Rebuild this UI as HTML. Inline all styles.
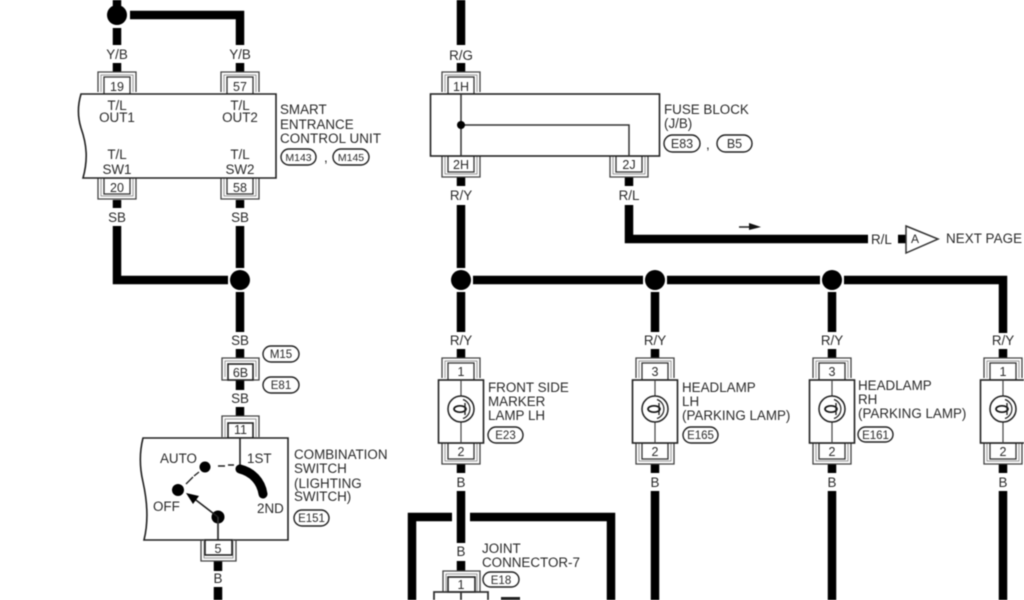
<!DOCTYPE html>
<html><head><meta charset="utf-8"><style>
html,body{margin:0;padding:0;background:#fff}
svg{display:block;filter:blur(.6px)}
text{font-family:"Liberation Sans",sans-serif;font-size:13.4px;fill:#2a2a2a}
.c{text-anchor:middle}
.p{font-size:11.5px;text-anchor:middle;fill:#2a2a2a}
.m{font-size:10.500px;text-anchor:middle;fill:#2a2a2a}
.n{font-size:12.5px;text-anchor:middle;fill:#2a2a2a}
.w{fill:none;stroke:#000;stroke-width:8.5;stroke-linejoin:miter}
.b{fill:#fff;stroke:#222;stroke-width:1.6}
.t{fill:none;stroke:#444;stroke-width:1.3}
.l{fill:none;stroke:#999;stroke-width:1}
.o{fill:#fff;stroke:#222;stroke-width:1.4}
</style></head><body>
<svg width="1024" height="600" viewBox="0 0 1024 600" xmlns="http://www.w3.org/2000/svg">
<defs>
<g id="top"><path class="t" d="M-19,-2V-22H19V-2"/><path class="l" d="M-16,-2V-19H16V-2"/><rect x="-13" y="-17" width="26" height="17" fill="#fff" stroke="#333" stroke-width="1.3"/></g>
<g id="bot"><path class="t" d="M-19,0V21H19V0"/><path class="l" d="M-16,0V18H16V0"/><rect x="-13" y="0" width="26" height="16" fill="#fff" stroke="#333" stroke-width="1.3"/></g>
<g id="lamp"><rect x="-22.500" y="0" width="45" height="63" class="b"/><path d="M0,0V63" stroke="#444" stroke-width="1.2"/><circle cx="0" cy="29" r="13" fill="#fff" stroke="#222" stroke-width="1.5"/><path d="M2,19.500A10,10 0 0 1 2,38.500" fill="none" stroke="#222" stroke-width="1.2"/><ellipse cx="-1" cy="29" rx="6" ry="3.200" fill="none" stroke="#111" stroke-width="1.7"/><path d="M4,23V35" stroke="#222" stroke-width="1.4"/></g>
</defs>

<!-- wires -->
<path class="w" d="M117,0V8M117,28V45M117,63V72M130,15H240V45M240,63V72"/>
<path class="w" d="M117,200V208M240,200V208M117,226V280H228M240,226V268M240,292V332M240,349V358M240,380V390M240,407V416M218,561V571M218,587V600"/>
<path class="w" d="M461,0V45M461,63V72M461,177V186M629,177V186M461,205V268M629,205V239H868M898,239H906"/>
<path class="w" d="M473,280H643M667,280H820M844,280H1003V333"/>
<path class="w" d="M461,292V332M461,349V358M655,292V332M655,349V358M832,292V332M832,349V358M1003,349V358"/>
<path class="w" d="M461,464V473M461,491V543M461,561V571M655,464V473M655,491V600M832,464V473M832,491V600M1003,464V473M1003,491V600"/>
<path class="w" d="M452,517H412V600M470,517H611V600"/>
<circle cx="117" cy="15" r="10" fill="#000"/>
<circle cx="240" cy="280" r="10" fill="#000"/>
<circle cx="461" cy="280" r="10" fill="#000"/>
<circle cx="655" cy="280" r="10" fill="#000"/>
<circle cx="832" cy="280" r="10" fill="#000"/>

<!-- smart unit -->
<use href="#top" x="117" y="94"/><use href="#top" x="240" y="94"/>
<use href="#bot" x="117" y="178"/><use href="#bot" x="240" y="178"/>
<path class="b" d="M81,94H276V178H83C88,160 87,145 81,128C77,115 78,104 81,94Z"/>
<text class="n" x="117" y="91">19</text><text class="n" x="240" y="91">57</text>
<text class="n" x="117" y="192">20</text><text class="n" x="240" y="192">58</text>
<text class="c" x="117" y="59">Y/B</text><text class="c" x="240" y="59">Y/B</text>
<text class="c" x="117" y="110">T/L</text><text class="c" x="117" y="122">OUT1</text>
<text class="c" x="240" y="110">T/L</text><text class="c" x="240" y="122">OUT2</text>
<text class="c" x="117" y="159">T/L</text><text class="c" x="117" y="174">SW1</text>
<text class="c" x="240" y="159">T/L</text><text class="c" x="240" y="174">SW2</text>
<text x="280" y="114">SMART</text><text x="280" y="129">ENTRANCE</text><text x="280" y="143" textLength="101">CONTROL UNIT</text>
<rect x="281" y="149" width="35" height="16" rx="8" class="o"/><text class="m" x="298.500" y="161">M143</text>
<text x="324" y="162">,</text>
<rect x="333" y="149" width="36" height="16" rx="8" class="o"/><text class="m" x="351" y="161">M145</text>
<text class="c" x="117" y="222">SB</text><text class="c" x="240" y="222">SB</text>

<!-- 6B -->
<text class="c" x="240" y="345">SB</text>
<path class="t" d="M222,380V358H259V380Z"/><path class="l" d="M225,377V361H256V377"/>
<rect x="228" y="364" width="25" height="16" class="b"/><text class="n" x="240.500" y="377">6B</text>
<rect x="263" y="346" width="36" height="16" rx="8" class="o"/><text class="p" x="281" y="358">M15</text>
<rect x="263" y="377" width="36" height="16" rx="8" class="o"/><text class="p" x="281" y="389">E81</text>
<text class="c" x="240" y="403">SB</text>

<!-- combination switch -->
<path class="t" d="M222,437V416H259V437"/><path class="l" d="M225,437V419H256V437"/>
<rect x="228" y="423" width="25" height="15" class="b"/><text class="n" x="240.500" y="434">11</text>
<path class="b" d="M143,438H288V540H144C149,520 147,500 143,482C139,465 140,450 143,438Z"/>
<path d="M240,438V465" stroke="#222" stroke-width="1.6"/>
<path d="M240,469C252,472 261,481 263,494" fill="none" stroke="#000" stroke-width="9" stroke-linecap="round"/>
<path d="M193,477L186,484M199,472L194,476M218,466H225M228,465H234" stroke="#222" stroke-width="1.4" fill="none"/>
<circle cx="205" cy="467" r="5.500" fill="#000"/>
<circle cx="178" cy="490" r="6" fill="#000"/>
<circle cx="218" cy="517" r="6.500" fill="#000"/>
<path d="M218,517L192,497" stroke="#222" stroke-width="1.6"/>
<path d="M186,493L199,496L193,504Z" fill="#000"/>
<path d="M218,517V540" stroke="#333" stroke-width="1.8"/>
<text x="160" y="463">AUTO</text><text x="247" y="463">1ST</text><text x="153" y="511">OFF</text><text x="257" y="513">2ND</text>
<text x="294" y="459">COMBINATION</text><text x="294" y="473">SWITCH</text><text x="294" y="488">(LIGHTING</text><text x="294" y="501">SWITCH)</text>
<rect x="294" y="510" width="35" height="16" rx="8" class="o"/><text class="p" x="311.500" y="522">E151</text>
<path class="t" d="M201,540V561H236V540"/><path class="l" d="M204,540V558H233V540"/>
<rect x="205" y="540" width="27" height="15" class="b"/><text class="n" x="218" y="553">5</text>
<text class="c" x="218" y="583">B</text>

<!-- fuse block -->
<use href="#top" x="461" y="94"/><use href="#bot" x="461" y="156"/><use href="#bot" x="629" y="156"/>
<rect x="430.500" y="94" width="229" height="62" class="b"/>
<path d="M461,94V156M461,125H629V156" fill="none" stroke="#333" stroke-width="1.5"/>
<circle cx="461" cy="125" r="4" fill="#000"/>
<text class="n" x="461" y="91">1H</text>
<text class="n" x="461" y="169">2H</text><text class="n" x="629" y="169">2J</text>
<text class="c" x="461" y="60">R/G</text>
<text class="c" x="461" y="200">R/Y</text><text class="c" x="629" y="200">R/L</text>
<text x="664" y="114">FUSE BLOCK</text><text x="664" y="128">(J/B)</text>
<rect x="664" y="135" width="36" height="17" rx="8.500" class="o"/><text class="n" x="682" y="148">E83</text>
<text x="706" y="149">,</text>
<rect x="717" y="135" width="35" height="17" rx="8.500" class="o"/><text class="n" x="734.500" y="148">B5</text>

<!-- next page -->
<path d="M739,227H751" stroke="#222" stroke-width="1.5"/><path d="M749,223L761,227L749,230Z" fill="#111"/>
<text x="871" y="244">R/L</text>
<path d="M906,226L938,239L906,253Z" fill="#fff" stroke="#333" stroke-width="1.5"/>
<text x="911" y="243" style="font-size:12px">A</text>
<text x="946" y="243" textLength="76">NEXT PAGE</text>

<!-- lamps -->
<use href="#top" x="461" y="380"/><use href="#bot" x="461" y="443"/><use href="#lamp" x="461" y="380"/>
<use href="#top" x="655" y="380"/><use href="#bot" x="655" y="443"/><use href="#lamp" x="655" y="380"/>
<use href="#top" x="832" y="380"/><use href="#bot" x="832" y="443"/><use href="#lamp" x="832" y="380"/>
<use href="#top" x="1003" y="380"/><use href="#bot" x="1003" y="443"/><use href="#lamp" x="1003" y="380"/>
<text class="c" x="461" y="345">R/Y</text><text class="c" x="655" y="345">R/Y</text><text class="c" x="832" y="345">R/Y</text><text class="c" x="1003" y="345">R/Y</text>
<text class="n" x="461" y="376">1</text><text class="n" x="655" y="376">3</text><text class="n" x="832" y="376">3</text><text class="n" x="1003" y="376">1</text>
<text class="n" x="461" y="456">2</text><text class="n" x="655" y="456">2</text><text class="n" x="832" y="456">2</text><text class="n" x="1003" y="456">2</text>
<text class="c" x="461" y="487">B</text><text class="c" x="655" y="487">B</text><text class="c" x="832" y="487">B</text><text class="c" x="1003" y="487">B</text>
<text x="488" y="392">FRONT SIDE</text><text x="488" y="406">MARKER</text><text x="488" y="420">LAMP LH</text>
<rect x="488" y="427" width="35" height="16" rx="8" class="o"/><text class="p" x="505.500" y="439">E23</text>
<text x="682" y="392">HEADLAMP</text><text x="682" y="406">LH</text><text x="682" y="420">(PARKING LAMP)</text>
<rect x="683" y="427" width="35" height="16" rx="8" class="o"/><text class="p" x="700.500" y="439">E165</text>
<text x="858" y="390">HEADLAMP</text><text x="858" y="404">RH</text><text x="858" y="418">(PARKING LAMP)</text>
<rect x="858" y="427" width="35" height="15" rx="7.500" class="o"/><text class="p" x="875.500" y="439">E161</text>

<!-- joint connector -->
<text class="c" x="461" y="556">B</text>
<text x="482" y="553">JOINT</text><text x="482" y="567">CONNECTOR-7</text>
<rect x="483" y="572" width="36" height="15" rx="7.500" class="o"/><text class="p" x="501" y="584">E18</text>
<path class="t" d="M443,592V571H480V592"/><path class="l" d="M446,592V574H477V592"/>
<rect x="448" y="577" width="27" height="15" class="b"/><text class="n" x="461" y="589">1</text>
<path d="M434,600V592H488V600M461,592V600" fill="none" stroke="#333" stroke-width="1.8"/>
<rect x="501" y="597" width="19" height="3" fill="#222"/>
</svg>
</body></html>
